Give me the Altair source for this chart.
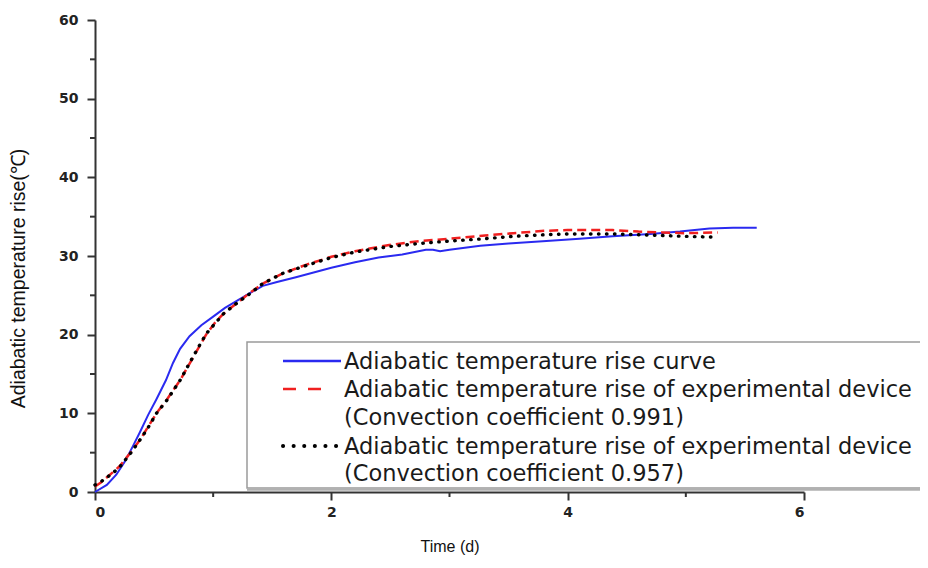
import altair as alt
import pandas as pd

# ---- data ----
blue_t = [0, 0.1, 0.18, 0.25, 0.32, 0.38, 0.45, 0.52, 0.6, 0.66, 0.72, 0.8, 0.9, 1.0, 1.1, 1.2, 1.3, 1.42,
          1.54, 1.7, 1.85, 2.0, 2.2, 2.4, 2.6, 2.8, 2.86, 2.92, 3.0, 3.26, 3.5, 3.82, 4.1, 4.38, 4.7, 4.95,
          5.2, 5.4, 5.6]
blue_v = [0, 0.9, 2.2, 3.8, 5.8, 7.6, 9.8, 11.8, 14.2, 16.4, 18.2, 19.8, 21.2, 22.3, 23.4, 24.3, 25.2, 26.2,
          26.7, 27.3, 27.9, 28.5, 29.2, 29.8, 30.2, 30.8, 30.8, 30.6, 30.8, 31.3, 31.6, 31.9, 32.2, 32.5, 32.8,
          33.1, 33.5, 33.6, 33.6]

red_t = [0, 0.05, 0.15, 0.21, 0.3, 0.38, 0.45, 0.52, 0.61, 0.72, 0.83, 0.94, 1.02, 1.09, 1.2, 1.31, 1.42,
         1.59, 1.79, 2.0, 2.2, 2.49, 2.75, 3.0, 3.3, 3.54, 3.8, 4.0, 4.38, 4.6, 4.8, 5.0, 5.27]
red_v = [0.7, 1.2, 2.5, 3.3, 5.0, 6.6, 8.3, 10.0, 11.8, 14.2, 17.1, 20.0, 21.6, 22.7, 24.0, 25.3, 26.5,
         27.8, 28.9, 29.9, 30.6, 31.4, 31.9, 32.2, 32.6, 32.9, 33.2, 33.3, 33.3, 33.1, 33.0, 32.9, 33.0]

black_t = [0, 0.05, 0.15, 0.21, 0.3, 0.38, 0.45, 0.52, 0.61, 0.72, 0.83, 0.94, 1.09, 1.2, 1.31, 1.42,
           1.59, 1.79, 2.0, 2.2, 2.49, 2.75, 3.0, 3.3, 3.54, 3.8, 4.0, 4.38, 4.6, 4.8, 5.0, 5.23]
black_v = [0.9, 1.3, 2.4, 3.2, 4.9, 6.6, 8.2, 10.0, 11.7, 14.2, 17.2, 20.1, 22.7, 24.0, 25.2, 26.5,
           27.8, 28.8, 29.8, 30.5, 31.2, 31.6, 31.9, 32.2, 32.5, 32.7, 32.8, 32.8, 32.7, 32.6, 32.5, 32.4]

y_major = [0, 10, 20, 30, 40, 50, 60]
y_minor = [5, 15, 25, 35, 45, 55]
x_major = [0, 2, 4, 6]
x_minor = [1, 3, 5]

legend_lines = [
    "Adiabatic temperature rise curve",
    "Adiabatic temperature rise of experimental device",
    "(Convection coefficient 0.991)",
    "Adiabatic temperature rise of experimental device",
    "(Convection coefficient 0.957)",
]

FONT = "Liberation Sans"
WIDE = "DejaVu Sans"
W, H = 709, 472

blue_df = pd.DataFrame({"t": blue_t, "v": blue_v})
red_df = pd.DataFrame({"t": red_t, "v": red_v})
black_df = pd.DataFrame({"t": black_t, "v": black_v})

xscale = alt.Scale(domain=[0, 6], nice=False, zero=False)
yscale = alt.Scale(domain=[0, 60], nice=False)

xaxis = alt.Axis(values=x_major, format="d", title="Time (d)", titleFont=FONT, titleFontSize=16,
                 titleFontWeight="normal", titleColor="#111", titlePadding=19,
                 labelFont=WIDE, labelFontSize=14, labelFontWeight="bold", labelColor="#222",
                 labelPadding=5, tickSize=8, tickWidth=2, tickColor="#333", domainColor="#333",
                 domainWidth=2, grid=False)
yaxis = alt.Axis(values=y_major, format="d", title="Adiabatic temperature rise(℃)", titleFont=FONT,
                 titleFontSize=19.5, titleFontWeight="normal", titleColor="#111", titlePadding=30,
                 titleY=258,
                 labelFont=WIDE, labelFontSize=14, labelFontWeight="bold", labelColor="#222",
                 labelPadding=9, tickSize=8, tickWidth=2, tickColor="#333", domainColor="#333",
                 domainWidth=2, grid=False)

blue = alt.Chart(blue_df).mark_line(color="#2a2af0", strokeWidth=2).encode(
    x=alt.X("t:Q", scale=xscale, axis=xaxis),
    y=alt.Y("v:Q", scale=yscale, axis=yaxis),
)
red = alt.Chart(red_df).mark_line(color="#f02020", strokeWidth=2.5, strokeDash=[9, 5]).encode(
    x=alt.X("t:Q", scale=xscale), y=alt.Y("v:Q", scale=yscale))
black = alt.Chart(black_df).mark_line(color="#000000", strokeWidth=3.4, strokeDash=[0.5, 7.5],
                                      strokeCap="round").encode(
    x=alt.X("t:Q", scale=xscale), y=alt.Y("v:Q", scale=yscale))

# minor ticks
ymin_df = pd.DataFrame({"v": y_minor})
xmin_df = pd.DataFrame({"t": x_minor})
ymin = alt.Chart(ymin_df).mark_rule(color="#333", strokeWidth=2).encode(
    y=alt.Y("v:Q", scale=yscale), x=alt.value(0), x2=alt.value(-5))
xmin = alt.Chart(xmin_df).mark_rule(color="#333", strokeWidth=2).encode(
    x=alt.X("t:Q", scale=xscale), y=alt.value(H), y2=alt.value(H + 5))

# legend box (decoration)
one = pd.DataFrame({"a": [0]})
box = alt.Chart(one).mark_rect(fill="white", stroke="#9a9a9a", strokeWidth=1.5, clip=False).encode(
    x=alt.value(152), x2=alt.value(845), y=alt.value(322), y2=alt.value(468))
box_shadow = alt.Chart(one).mark_rule(color="#b0b0b0", strokeWidth=2.5).encode(
    x=alt.value(152), x2=alt.value(845), y=alt.value(469.5))

sym_blue = alt.Chart(one).mark_rule(color="#2a2af0", strokeWidth=2.5).encode(
    x=alt.value(188), x2=alt.value(246), y=alt.value(341))
sym_red = alt.Chart(one).mark_rule(color="#f02020", strokeWidth=2.5, strokeDash=[13, 12]).encode(
    x=alt.value(188), x2=alt.value(228), y=alt.value(369))
sym_black = alt.Chart(one).mark_rule(color="#000", strokeWidth=4, strokeCap="round",
                                     strokeDash=[0.1, 10.5]).encode(
    x=alt.value(188), x2=alt.value(243), y=alt.value(426))

row_y = [342, 370, 398, 427, 454]
texts = []
for line, yy in zip(legend_lines, row_y):
    texts.append(
        alt.Chart(pd.DataFrame({"label": [line]})).mark_text(
            font=WIDE, fontSize=22.5, color="#1a1a1a", align="left", baseline="middle"
        ).encode(text="label:N", x=alt.value(249), y=alt.value(yy))
    )

chart = alt.layer(
    blue, red, black, ymin, xmin, box, box_shadow, sym_blue, sym_red, sym_black, *texts
).properties(
    width=W, height=H,
    background="white",
    autosize=alt.AutoSizeParams(type="none"),
    padding={"left": 87, "top": 12, "right": 116, "bottom": 68},
).configure_view(stroke=None, strokeWidth=0)

chart.save("out.html", embed_options={"renderer": "svg", "actions": False})
